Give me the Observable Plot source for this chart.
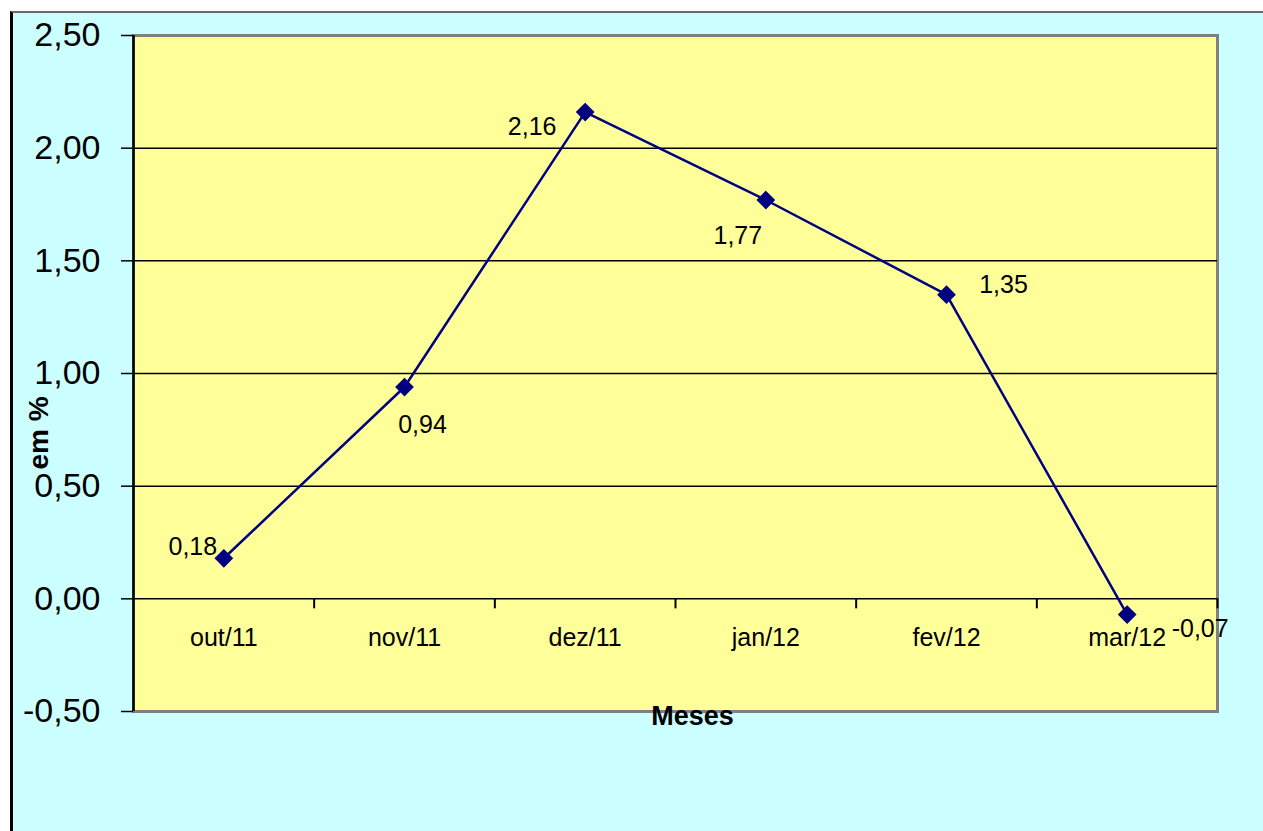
<!DOCTYPE html>
<html>
<head>
<meta charset="utf-8">
<script src="https://cdn.jsdelivr.net/npm/d3@7"></script>
<script src="https://cdn.jsdelivr.net/npm/@observablehq/plot@0.6"></script>
<style>
  html, body { margin: 0; padding: 0; background: #ffffff; width: 1263px; height: 831px; overflow: hidden; }
  #bg { position: absolute; left: 10px; top: 11px; width: 1253px; height: 820px;
        border-left: 3px solid #000; border-top: 2px solid #6b6b6b; background: #CCFFFF; box-sizing: border-box; }
  #chart { position: absolute; left: 0; top: 0; }
</style>
</head>
<body>
<div id="bg"></div>
<div id="chart"></div>
<script>
const months = ["out/11", "nov/11", "dez/11", "jan/12", "fev/12", "mar/12"];
const values = [0.18, 0.94, 2.16, 1.77, 1.35, -0.07];
const yTicks = [-0.5, 0, 0.5, 1, 1.5, 2, 2.5];
const gridValues = [0.5, 1, 1.5, 2];
const yLabel = "em %";
const xLabel = "Meses";

// label offsets in pixels (styling, not data)
const labelOffsets = [[-31, -11], [18, 38], [-53, 15], [-28, 36], [57, -10], [73, 14]];

const fmt = d => d.toFixed(2).replace(".", ",");
const idx = months.map((_, i) => i);
const W = 1263, H = 831;
const mL = 133, mR = 46, mT = 35, mB = 120;
const pxPerUnit = (H - mT - mB) / 3;
const boundaries = d3.range(0, months.length + 1);

const plot = Plot.plot({
  width: W, height: H,
  marginLeft: mL, marginRight: mR, marginTop: mT, marginBottom: mB,
  style: { background: "transparent", fontFamily: "'Liberation Sans', Arial, sans-serif", color: "#000", overflow: "visible" },
  x: { domain: [0, months.length], axis: null },
  y: { domain: [-0.5, 2.5], axis: null },
  marks: [
    Plot.frame({ fill: "#FFFF99", stroke: "#808080", strokeWidth: 3 }),
    Plot.ruleY(gridValues, { stroke: "#000", strokeWidth: 1.5 }),
    Plot.ruleY([0], { stroke: "#000", strokeWidth: 1.5 }),
    Plot.ruleX(boundaries.slice(1), { y1: 0, y2: -10 / pxPerUnit, stroke: "#000", strokeWidth: 2 }),
    Plot.ruleX([0], { stroke: "#000", strokeWidth: 2.5 }),
    Plot.axisY({ ticks: yTicks, tickSize: 12, tickPadding: 21, fontSize: 34, tickFormat: fmt, stroke: "#000", strokeWidth: 1.5, fill: "#000" }),
    Plot.text(idx, { x: i => i + 0.5, y: 0, text: i => months[i], dy: 39, fontSize: 25, fill: "#000" }),
    Plot.line(idx, { x: i => i + 0.5, y: i => values[i], stroke: "#000080", strokeWidth: 2.5 }),
    Plot.dot(idx, { x: i => i + 0.5, y: i => values[i], symbol: "diamond2", r: 7.5, fill: "#000080", stroke: "#000080" }),
    ...idx.map(i => Plot.text([i], { x: d => d + 0.5, y: d => values[d], text: d => fmt(values[d]),
        dx: labelOffsets[i][0], dy: labelOffsets[i][1], fontSize: 25, fill: "#000" })),
    Plot.text([xLabel], { frameAnchor: "bottom", dx: 17, dy: 13, fontSize: 27, fontWeight: "bold", fill: "#000" }),
    Plot.text([yLabel], { frameAnchor: "left", rotate: -90, dx: -94, dy: 96, fontSize: 28, fontWeight: "bold", fill: "#000" })
  ]
});
document.getElementById("chart").appendChild(plot);
</script>
</body>
</html>
